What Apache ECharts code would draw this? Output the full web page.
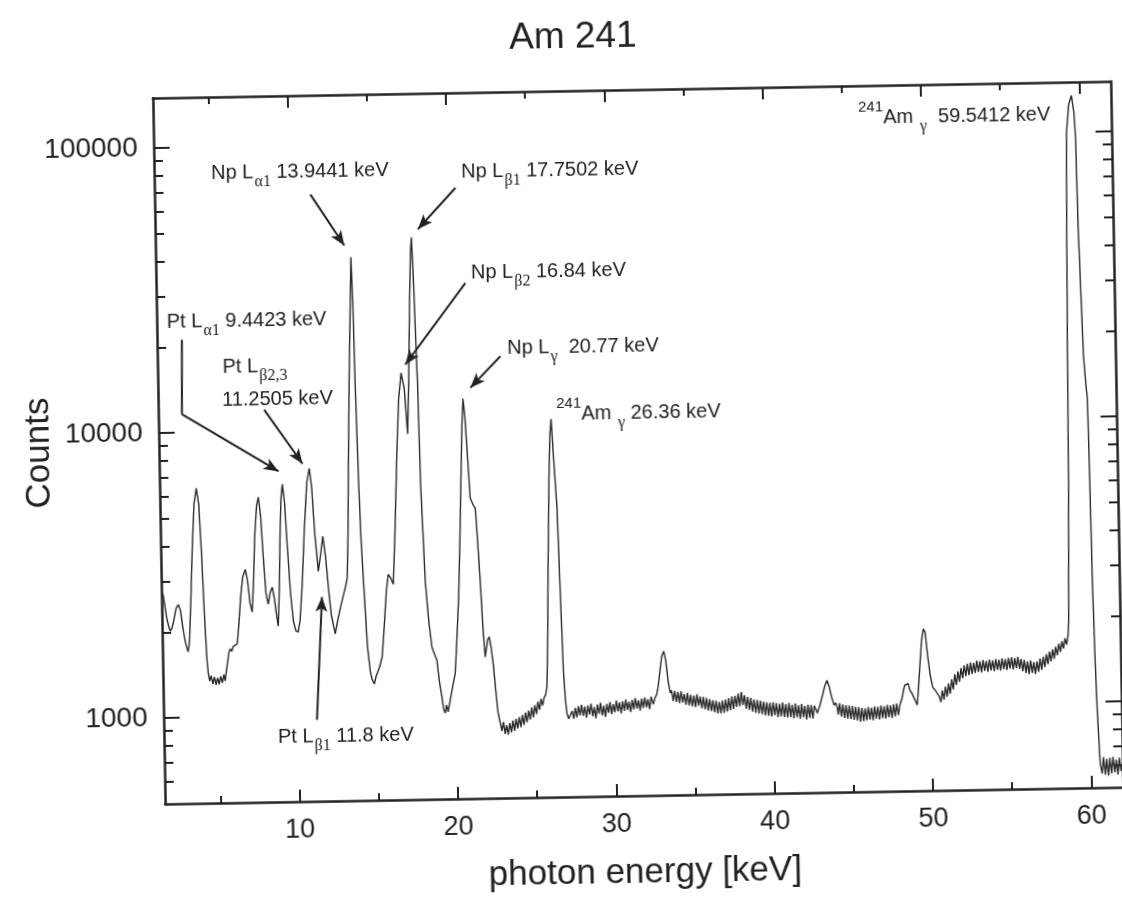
<!DOCTYPE html>
<html>
<head>
<meta charset="utf-8">
<title>Am 241</title>
<script src="https://cdn.jsdelivr.net/npm/echarts@6/dist/echarts.min.js"></script>
<style>
  html, body { margin: 0; padding: 0; background: #fff; overflow: hidden; }
  /* the original is a scanned page, tilted by about one degree */
  #chart { width: 1122px; height: 897px; transform: rotate(-1deg); transform-origin: 50% 50%; }
</style>
</head>
<body>
<div id="chart"></div>
<script>
// spectrum, [photon energy keV, counts]
const ptRegion = [
  [1.55,2760],[1.61,2700],[1.7,2480],[1.8,2250],[1.9,2120],[2.01,2020],[2.12,2060],[2.25,2200],[2.4,2420],[2.55,2500],
  [2.68,2380],[2.8,2100],[2.95,1850],[3.05,1760],[3.12,1704],[3.22,1850],[3.35,2600],[3.5,4000],[3.65,5600],[3.81,6380],
  [3.95,5600],[4.07,3800],[4.2,2200],[4.3,1600],[4.37,1424],[4.45,1340],[4.55,1400],[4.65,1310],[4.75,1385],[4.85,1300],
  [4.95,1375],[5.05,1305],[5.15,1390],[5.25,1320],[5.35,1410],[5.43,1340],[5.52,1460],[5.62,1580],[5.7,1690],[5.78,1735],
  [5.88,1700],[5.98,1770],[6.1,1750],[6.23,1804],[6.35,2100],[6.5,2650],[6.65,3100],[6.82,3286],[6.95,3000],[7.08,2500],
  [7.21,2327],[7.33,3000],[7.45,4300],[7.6,5500],[7.72,5886],[7.85,5000],[7.97,3600],[8.1,2700],[8.23,2475],[8.35,2700],
  [8.5,2835],[8.62,2600],[8.75,2250],[8.84,2072],[8.95,2800],[9.05,4300],[9.15,5800],[9.25,6506],[9.37,5600],[9.5,3900],
  [9.65,2700],[9.8,2150],[9.95,1990],[10.09,1970],[10.22,2150],[10.4,2900],[10.6,4600],[10.8,6600],[10.97,7370],[11.1,6300],
  [11.25,4300],[11.43,3201],[11.6,3700],[11.75,4250],[11.9,3600],[12.05,2800],[12.2,2250],[12.43,1928],[12.6,2150],[12.8,2400],
  [12.97,2612],[13.12,2800],[13.25,3037]
];
const npRegion = [
  [13.34,4200],[13.42,6553],[13.58,14600],[13.74,28000],[13.83,40340],[13.9,28000],[13.96,14570],[14.07,6541],[14.17,4000],[14.27,2936],
  [14.45,1730],[14.6,1420],[14.7,1330],[14.77,1317],[14.85,1280],[14.95,1355],[15.05,1370],[15.2,1470],[15.37,1594],[15.55,2100],
  [15.7,2700],[15.84,3094],[16.0,3000],[16.15,2855],[16.3,4200],[16.53,8530],[16.69,12720],[16.87,15725],[17.06,13760],[17.22,9600],
  [17.35,15000],[17.49,28290],[17.6,42000],[17.67,46930],[17.76,32280],[17.84,20000],[17.9,14490],[17.98,6506],[18.17,2917],[18.35,2100],
  [18.52,1710],[18.7,1600],[18.82,1536],[18.95,1300],[19.09,1148],[19.2,1030],[19.29,1001],[19.38,1070],[19.47,1010],[19.62,1113],
  [19.8,1250],[19.96,1377],[20.1,1800],[20.26,2544],[20.4,4000],[20.53,6464],[20.65,10000],[20.75,12660],[20.85,11000],[20.95,8440],
  [21.1,5670],[21.28,5355],[21.41,5215],[21.52,4000],[21.64,2896],[21.76,2000],[21.87,1567],[21.95,1560],[22.05,1800],[22.15,1843],
  [22.25,1700],[22.37,1484],[22.5,1200],[22.62,1000]
];
const midRegion = [
  [22.75,917],[22.85,860],[22.95,925],[23.05,840],[23.15,900],[23.25,835],[23.35,915],[23.45,850],[23.55,935],[23.65,860],
  [23.75,945],[23.85,875],[23.95,960],[24.05,885],[24.15,975],[24.25,900],[24.35,995],[24.45,920],[24.55,1010],[24.65,940],
  [24.75,1035],[24.85,955],[24.95,1055],[25.05,980],[25.15,1085],[25.25,1015],[25.35,1110],[25.45,1050],[25.55,1120],[25.64,1140],
  [25.74,1222],[25.84,1800],[25.93,3028],[26.1,6740],[26.2,9300],[26.29,10610],[26.41,7690],[26.57,5158],[26.68,2642],[26.8,1357],
  [26.9,1080],[26.97,985],[27.07,940],[27.17,932],[27.3,1000],[27.4,940],[27.5,1025],[27.6,950],[27.7,1040],[27.8,965],
  [27.9,1050],[28.0,960],[28.1,1035],[28.2,945],[28.3,1045],[28.4,970],[28.5,1060],[28.6,955],[28.7,1030],[28.8,940],
  [28.9,1050],[29.0,975],[29.1,1065],[29.2,960],[29.3,1040],[29.4,950],[29.5,1055],[29.6,980],[29.7,1070],[29.8,970],
  [29.9,1050],[30.0,985],[30.1,1080],[30.2,990],[30.3,1065],[30.4,975],[30.5,1075],[30.6,995],[30.7,1090],[30.8,1000],
  [30.9,1070],[31.0,985],[31.1,1085],[31.2,1005],[31.3,1100],[31.4,1010],[31.5,1080],[31.6,995],[31.7,1095],[31.8,1015],
  [31.9,1105],[32.0,1020],[32.1,1090],[32.2,1005],[32.3,1110],[32.43,1045],[32.55,1100],[32.66,1130],[32.76,1206],[32.9,1380],
  [33.02,1540],[33.15,1600],[33.27,1480],[33.4,1250],[33.52,1140],[33.6,1165],[33.7,1070],[33.8,1160],[33.9,1060],[34.0,1150],
  [34.1,1050],[34.2,1155],[34.3,1055],[34.4,1130],[34.5,1035],[34.6,1140],[34.7,1030],[34.8,1120],[34.9,1020],[35.0,1115],
  [35.1,1015],[35.2,1125],[35.3,1025],[35.4,1105],[35.5,1005],[35.6,1100],[35.7,995],[35.8,1090],[35.9,985],[36.0,1080],
  [36.1,980],[36.2,1070],[36.3,970],[36.4,1065],[36.5,960],[36.6,1055],[36.7,960],[36.8,1065],[36.9,965],[37.0,1075],
  [37.1,975],[37.2,1085],[37.3,985],[37.4,1100],[37.5,995],[37.6,1105],[37.7,1010],[37.8,1125],[37.9,1015],[38.0,1140],
  [38.1,1025],[38.2,1110],[38.3,995],[38.4,1095],[38.5,985],[38.6,1085],[38.7,970],[38.8,1070],[38.9,960],[39.0,1065],
  [39.1,955],[39.2,1060],[39.3,950],[39.4,1050],[39.5,940],[39.6,1045],[39.7,935],[39.8,1040],[39.9,930],[40.0,1045],
  [40.1,940],[40.2,1035],[40.3,925],[40.4,1030],[40.5,930],[40.6,1040],[40.7,925],[40.8,1025],[40.9,920],[41.0,1035],
  [41.1,925],[41.2,1020],[41.3,915],[41.4,1030],[41.5,920],[41.6,1015],[41.7,910],[41.8,1025],[41.9,920],[42.0,1010],
  [42.1,905],[42.2,1020],[42.3,915],[42.4,1015],[42.5,910],[42.6,1010],[42.78,950],[42.95,1010],[43.11,1088],[43.28,1180],
  [43.42,1236],[43.55,1180],[43.7,1080],[43.85,1010],[43.95,1030],[44.05,990],[44.1,935],[44.2,1025],[44.3,920],[44.4,1015],
  [44.5,910],[44.6,1010],[44.7,905],[44.8,1005],[44.9,900],[45.0,1000],[45.1,895],[45.2,995],[45.3,890],[45.4,990],
  [45.5,880],[45.6,985],[45.7,885],[45.8,980],[45.9,890],[46.0,990],[46.1,895],[46.2,985],[46.3,890],[46.4,995],
  [46.5,900],[46.6,990],[46.7,895],[46.8,1000],[46.9,905],[47.0,995],[47.1,900],[47.2,1005],[47.3,910],[47.4,1000],
  [47.5,905],[47.6,1010],[47.7,915],[47.8,1015],[47.9,925],[48.0,1000],[48.15,1060],[48.25,1130],[48.33,1175],[48.43,1165],
  [48.55,1190],[48.65,1130],[48.76,1105],[48.86,1101],[48.97,1040],[49.1,1000],[49.2,1150],[49.32,1400],[49.45,1700],[49.57,1850],
  [49.68,1790],[49.8,1500],[49.95,1270],[50.1,1150],[50.26,1124],[50.4,1090],[50.5,1070]
];
const highRegion = [
  [50.6,1020],[50.7,1120],[50.8,1040],[50.9,1155],[51.0,1065],[51.1,1185],[51.2,1090],[51.3,1225],[51.4,1130],[51.5,1275],
  [51.6,1170],[51.7,1305],[51.8,1200],[51.9,1340],[52.0,1235],[52.1,1370],[52.2,1255],[52.3,1385],[52.4,1265],[52.5,1400],
  [52.6,1275],[52.7,1395],[52.8,1285],[52.9,1420],[53.0,1295],[53.1,1410],[53.2,1290],[53.3,1425],[53.4,1305],[53.5,1415],
  [53.6,1295],[53.7,1430],[53.8,1310],[53.9,1420],[54.0,1300],[54.1,1435],[54.2,1315],[54.3,1425],[54.4,1305],[54.5,1440],
  [54.6,1320],[54.7,1430],[54.8,1310],[54.9,1445],[55.0,1325],[55.1,1450],[55.2,1315],[55.3,1440],[55.4,1330],[55.5,1455],
  [55.6,1320],[55.7,1430],[55.8,1295],[55.9,1420],[56.0,1275],[56.1,1400],[56.2,1265],[56.3,1410],[56.4,1275],[56.5,1390],
  [56.6,1265],[56.7,1400],[56.8,1285],[56.9,1430],[57.0,1305],[57.1,1450],[57.2,1335],[57.3,1480],[57.4,1365],[57.5,1510],
  [57.6,1395],[57.7,1540],[57.8,1425],[57.9,1570],[58.0,1465],[58.1,1610],[58.2,1505],[58.3,1640],[58.4,1545],[58.5,1680],
  [58.6,1595],[58.7,1720],[58.75,1900],[58.8,2748],[58.9,6000],[58.97,16520],[59.06,45000],[59.15,99300],[59.32,125000],[59.5,134500],
  [59.64,118000],[59.72,95000],[59.78,48000],[59.9,25000],[59.98,16500],[60.1,13000],[60.18,11580],[60.24,6000],[60.29,2737],[60.38,1400],
  [60.46,936],[60.59,607],[60.7,560],[60.8,640],[60.9,555],[61.0,630],[61.1,550],[61.2,635],[61.3,560],[61.4,640],
  [61.5,565],[61.6,625],[61.7,555],[61.8,635],[61.9,570],[62.0,610]
];

const xMajorTicks = [10, 20, 30, 40, 50, 60];
const xMinorTicks = [5, 15, 25, 35, 45, 55];
const yMajorTicks = [1000, 10000, 100000];
const yMinorTicks = [600, 700, 800, 900, 2000, 3000, 4000, 5000, 6000, 7000, 8000, 9000,
                     20000, 30000, 40000, 50000, 60000, 70000, 80000, 90000];

// arrows: [from, to, with head] in keV / counts
const arrows = [
  [[11.34, 67330], [13.43, 44350], true],
  [[20.51, 69620], [18.09, 50100], true],
  [[21.03, 32240], [17.15, 16810], true],
  [[23.16, 17740], [21.23, 13820], true],
  [[3.07, 21200], [2.99, 11620], false],
  [[2.99, 11620], [9.03, 7224], true],
  [[8.19, 11900], [10.55, 7660], true],
  [[11.18, 966], [11.63, 2605], true]
];

const labels = [
  '{t|Np L}{s|α1}{t| 13.9441 keV}',
  '{t|Np L}{s|β1}{t| 17.7502 keV}',
  '{t|Np L}{s|β2}{t| 16.84 keV}',
  '{t|Pt L}{s|α1}{t| 9.4423 keV}',
  '{t|Pt L}{s|β2,3}',
  '{t|11.2505 keV}',
  '{t|Np L}{s|γ}{t|  20.77 keV}',
  '{p|241}{t|Am }{s|γ}{t| 26.36 keV}',
  '{p|241}{t|Am }{s|γ}{t|  59.5412 keV}',
  '{t|Pt L}{s|β1}{t| 11.8 keV}'
];
const labelPos = [[216, 167], [466, 170], [474, 271], [169, 315], [224, 361], [223, 394],
                  [509, 347], [557, 414], [864, 123], [273, 732]];

const spectrum = [].concat(ptRegion, npRegion, midRegion, highRegion);

const ink = '#222';
const sans = "'Liberation Sans', Arial, sans-serif";
const serif = "'Liberation Serif', 'Times New Roman', serif";

const richStyle = {
  t: { fontSize: 20, fontFamily: sans, fill: ink, verticalAlign: 'bottom', padding: [8, 0, 7, 0] },
  s: { fontSize: 16, fontFamily: serif, fill: ink, verticalAlign: 'bottom', padding: [0, 0, 0, 1] },
  p: { fontSize: 15, fontFamily: sans, fill: ink, verticalAlign: 'top' }
};

function xAxisOf(position, ticks, len, withLine, withLabels) {
  return {
    type: 'value', position: position, min: 1.5, max: 62,
    axisLine: { show: withLine, lineStyle: { color: ink, width: 2.5 } },
    axisTick: { show: true, inside: true, length: len, customValues: ticks, lineStyle: { color: ink, width: 2 } },
    axisLabel: withLabels
      ? { show: true, customValues: ticks, margin: 15, fontSize: 27, color: ink, fontFamily: sans }
      : { show: false },
    splitLine: { show: false }
  };
}

function yAxisOf(position, ticks, len, withLine, withLabels) {
  return {
    type: 'log', logBase: 10, position: position, min: 500, max: 150000,
    axisLine: { show: withLine, lineStyle: { color: ink, width: 2.5 } },
    axisTick: { show: true, inside: true, length: len, customValues: ticks, lineStyle: { color: ink, width: 2 } },
    axisLabel: withLabels
      ? { show: true, customValues: ticks, margin: 16, fontSize: 28, color: ink, fontFamily: sans,
          formatter: v => String(Math.round(v)) }
      : { show: false },
    splitLine: { show: false }
  };
}

const xBottom = xAxisOf('bottom', xMajorTicks, 12, true, true);
xBottom.name = 'photon energy [keV]';
xBottom.nameLocation = 'middle';
xBottom.nameGap = 60;
xBottom.nameTextStyle = { fontSize: 35, color: ink, fontFamily: sans };

const yLeft = yAxisOf('left', yMajorTicks, 16, true, true);
yLeft.name = 'Counts';
yLeft.nameLocation = 'middle';
yLeft.nameGap = 102;
yLeft.nameMoveOverlap = false;
yLeft.nameTextStyle = { fontSize: 35, color: ink, fontFamily: sans };

const chart = echarts.init(document.getElementById('chart'), null, { renderer: 'canvas' });

chart.setOption({
  animation: false,
  backgroundColor: '#fff',
  grid: { left: 159, right: 5, top: 91, bottom: 93, containLabel: false },
  xAxis: [
    xBottom,
    xAxisOf('bottom', xMinorTicks, 7, false, false),
    xAxisOf('top', xMajorTicks, 12, true, false),
    xAxisOf('top', xMinorTicks, 7, false, false)
  ],
  yAxis: [
    yLeft,
    yAxisOf('left', yMinorTicks, 9, false, false),
    yAxisOf('right', yMajorTicks, 16, true, false),
    yAxisOf('right', yMinorTicks, 9, false, false)
  ],
  graphic: [
    { type: 'text', x: 580, y: 38,
      style: { text: 'Am 241', fontSize: 37, fontFamily: sans, fill: ink, align: 'center', verticalAlign: 'middle' } }
  ].concat(labels.map((txt, i) => ({
    type: 'text', x: labelPos[i][0], y: labelPos[i][1],
    style: { text: txt, rich: richStyle, fontSize: 20, fontFamily: sans, fill: ink, align: 'left', verticalAlign: 'middle' }
  }))),
  series: [{
    type: 'line',
    data: spectrum,
    symbol: 'none',
    showSymbol: false,
    clip: true,
    lineStyle: { color: '#2a2a2a', width: 1.4 },
    emphasis: { disabled: true },
    markLine: {
      silent: true,
      animation: false,
      label: { show: false },
      emphasis: { disabled: true },
      lineStyle: { color: ink, width: 2, type: 'solid' },
      data: arrows.map(a => [
        { coord: a[0], symbol: 'none' },
        { coord: a[1], symbol: a[2] ? 'arrow' : 'none', symbolSize: [9, 15] }
      ])
    }
  }]
});
</script>
</body>
</html>
